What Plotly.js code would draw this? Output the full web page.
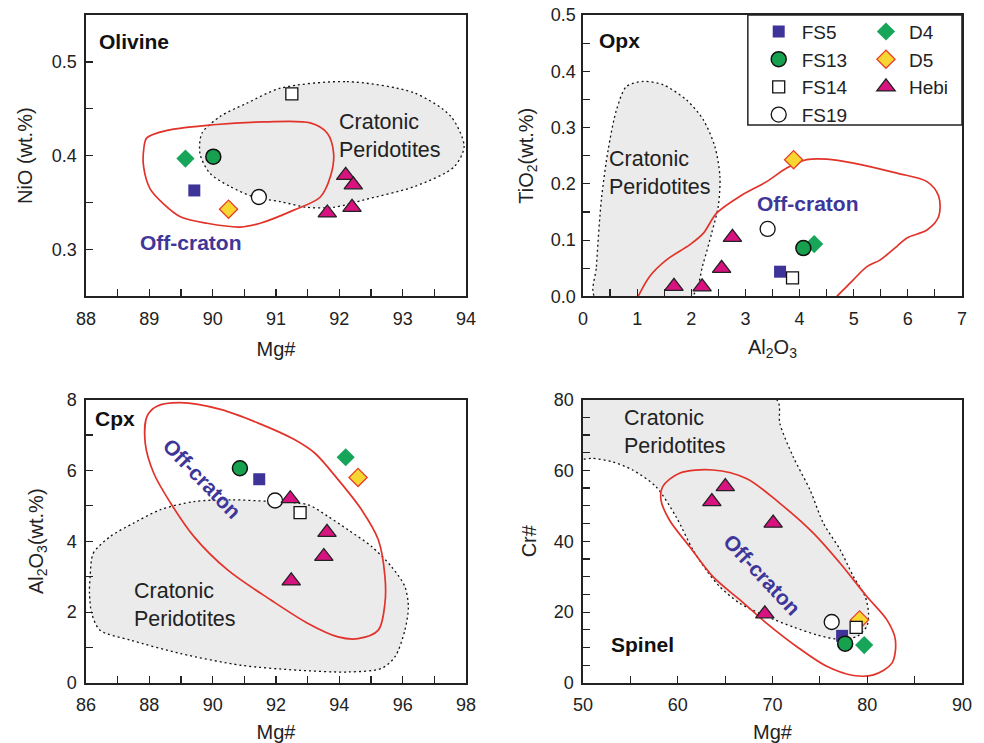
<!DOCTYPE html>
<html>
<head>
<meta charset="utf-8">
<script src="https://cdn.plot.ly/plotly-3.0.1.min.js"></script>
<style>html,body{margin:0;padding:0;background:#fff;}#chart{width:984px;height:743px;}</style>
</head>
<body>
<div id="chart"></div>
<script>
// ---------------- DATA ----------------
// sample order for the "single" samples: FS5, FS13, FS14, FS19, D4, D5
const sampleNames = ['FS5', 'FS13', 'FS14', 'FS19', 'D4', 'D5'];

// Olivine: Mg# vs NiO (wt.%)
const olivineSampleMg  = [89.71, 90.01, 91.25, 90.73, 89.57, 90.25];
const olivineSampleNiO = [0.363, 0.399, 0.466, 0.356, 0.397, 0.343];
const olivineHebiMg  = [92.10, 92.22, 91.81, 92.20];
const olivineHebiNiO = [0.379, 0.369, 0.339, 0.345];
const olivineCratonMg  = [91.07, 92.12, 93.18, 93.76, 93.97, 93.81, 93.18, 92.39, 91.91, 91.49, 91.07, 90.65, 90.28, 89.96, 89.80, 89.83, 90.12, 90.54, 91.07];
const olivineCratonNiO = [0.472, 0.479, 0.467, 0.442, 0.410, 0.388, 0.367, 0.353, 0.345, 0.345, 0.351, 0.356, 0.367, 0.381, 0.402, 0.424, 0.442, 0.456, 0.472];
const olivineOffMg  = [88.96, 89.28, 90.01, 90.81, 91.54, 91.81, 91.91, 91.86, 91.70, 91.28, 90.75, 90.44, 89.91, 89.49, 89.22, 89.01, 88.91, 88.91, 88.96];
const olivineOffNiO = [0.419, 0.427, 0.433, 0.436, 0.435, 0.424, 0.402, 0.378, 0.356, 0.342, 0.328, 0.324, 0.328, 0.335, 0.349, 0.365, 0.388, 0.406, 0.419];

// Opx: Al2O3 vs TiO2 (wt.%)
const opxSampleAl = [3.64, 4.07, 3.87, 3.41, 4.27, 3.89];
const opxSampleTi = [0.044, 0.086, 0.033, 0.120, 0.093, 0.243];
const opxHebiAl = [2.76, 2.56, 1.68, 2.20];
const opxHebiTi = [0.105, 0.050, 0.018, 0.017];
const opxCratonAl = [0.216, 0.247, 0.339, 0.463, 0.617, 0.802, 1.110, 1.481, 1.912, 2.221, 2.437, 2.529, 2.498, 2.375, 2.221, 2.005, 0.216];
const opxCratonTi = [0.000, 0.053, 0.172, 0.260, 0.331, 0.373, 0.382, 0.376, 0.349, 0.314, 0.266, 0.213, 0.160, 0.112, 0.059, 0.000, 0.000];
const opxOffAl = [1.018, 1.234, 1.542, 1.974, 2.221, 2.468, 2.899, 3.393, 3.763, 4.133, 4.503, 4.997, 5.799, 6.354, 6.570, 6.570, 6.354, 5.984, 5.799, 5.490, 5.244, 4.997, 4.812, 4.688];
const opxOffTi = [0.000, 0.036, 0.065, 0.092, 0.112, 0.148, 0.178, 0.204, 0.228, 0.243, 0.244, 0.237, 0.219, 0.204, 0.178, 0.142, 0.118, 0.104, 0.089, 0.065, 0.053, 0.030, 0.012, 0.000];

// Cpx: Mg# vs Al2O3 (wt.%)
const cpxSampleMg = [91.47, 90.86, 92.76, 91.97, 94.20, 94.59];
const cpxSampleAl = [5.75, 6.06, 4.81, 5.15, 6.37, 5.80];
const cpxHebiMg = [92.45, 93.61, 93.51, 92.48];
const cpxHebiAl = [5.20, 4.25, 3.57, 2.88];
const cpxCratonMg = [86.13, 86.23, 86.76, 87.50, 88.35, 89.41, 90.57, 91.84, 93.01, 93.64, 94.28, 95.02, 95.65, 96.07, 96.18, 96.07, 95.76, 95.33, 94.28, 92.69, 90.89, 88.98, 87.40, 86.44, 86.18, 86.11, 86.13];
const cpxCratonAl = [3.00, 3.66, 4.13, 4.51, 4.89, 5.12, 5.17, 5.12, 5.03, 4.70, 4.32, 3.85, 3.28, 2.72, 2.15, 1.49, 0.74, 0.41, 0.31, 0.36, 0.50, 0.83, 1.21, 1.49, 1.96, 2.53, 3.00];
const cpxOffMg = [88.24, 88.98, 90.25, 91.42, 92.58, 93.22, 93.96, 94.70, 95.23, 95.44, 95.44, 95.23, 94.59, 93.96, 93.01, 91.84, 90.47, 89.41, 88.67, 88.14, 87.87, 87.93, 88.24];
const cpxOffAl = [7.81, 7.91, 7.72, 7.34, 6.87, 6.49, 5.74, 4.89, 4.04, 3.00, 2.25, 1.49, 1.25, 1.30, 1.68, 2.34, 3.19, 4.13, 5.08, 5.92, 6.77, 7.53, 7.81];

// Spinel: Mg# vs Cr#
const spSampleMg = [77.35, 77.67, 78.83, 76.25, 79.68, 79.19];
const spSampleCr = [13.3, 11.1, 15.7, 17.2, 10.7, 17.8];
const spHebiMg = [65.02, 63.60, 70.07, 69.19];
const spHebiCr = [55.4, 51.2, 45.1, 19.5];
const spCratonMg = [70.42, 70.78, 72.19, 73.96, 75.37, 77.14, 78.55, 79.79, 80.14, 79.96, 78.90, 76.78, 74.66, 72.19, 69.36, 66.54, 64.42, 63.00, 61.59, 59.82, 57.70, 55.23, 53.11, 50.99, 50.00, 50.00, 70.42];
const spCratonCr = [80.0, 73.2, 63.8, 54.5, 45.1, 37.6, 30.0, 24.4, 19.7, 16.0, 13.1, 12.4, 13.6, 15.8, 18.8, 22.5, 27.2, 31.9, 37.6, 46.9, 55.4, 60.1, 62.4, 63.4, 63.4, 80.0, 80.0];
const spOffMg = [58.41, 60.18, 63.71, 67.24, 70.78, 74.31, 77.14, 79.96, 82.08, 82.97, 82.61, 80.67, 78.55, 75.72, 72.54, 69.36, 66.54, 63.71, 61.24, 59.12, 58.23, 58.41];
const spOffCr = [55.4, 59.2, 60.1, 57.7, 50.7, 42.3, 33.8, 24.4, 17.8, 12.2, 5.6, 2.3, 2.1, 4.7, 10.3, 16.9, 23.5, 30.0, 38.5, 46.0, 51.6, 55.4];

// ---------------- STYLES ----------------
const FONT = 'Liberation Sans, Arial, Helvetica, sans-serif';
const INK = '#222';
const OFF_COLOR = '#3f3699';
const sampleStyle = {
  FS5:  {symbol: 'square', size: 12, color: '#3e3398', line: {color: '#3e3398', width: 0}},
  FS13: {symbol: 'circle', size: 15, color: '#17a04e', line: {color: '#111', width: 1.5}},
  FS14: {symbol: 'square', size: 12, color: '#ffffff', line: {color: '#111', width: 1.3}},
  FS19: {symbol: 'circle', size: 15, color: '#ffffff', line: {color: '#111', width: 1.3}},
  D4:   {symbol: 'diamond', size: 14, color: '#17a55a', line: {color: '#17a55a', width: 0}},
  D5:   {symbol: 'diamond', size: 14, color: '#f7d631', line: {color: '#e8402a', width: 1.3}},
  Hebi: {symbol: 'triangle-up', size: 16, color: '#d8127e', line: {color: '#222', width: 1.3}}
};
const legendOf = {FS5: 'legend', FS13: 'legend', FS14: 'legend', FS19: 'legend', D4: 'legend2', D5: 'legend2', Hebi: 'legend2'};
const drawOrder = ['D4', 'D5', 'FS5', 'FS13', 'FS14', 'FS19'];

const panels = [
  {xa: 'x',  ya: 'y',  sx: olivineSampleMg, sy: olivineSampleNiO, hx: olivineHebiMg, hy: olivineHebiNiO,
   cx: olivineCratonMg, cy: olivineCratonNiO, ox: olivineOffMg, oy: olivineOffNiO, legend: false},
  {xa: 'x2', ya: 'y2', sx: opxSampleAl, sy: opxSampleTi, hx: opxHebiAl, hy: opxHebiTi,
   cx: opxCratonAl, cy: opxCratonTi, ox: opxOffAl, oy: opxOffTi, legend: true},
  {xa: 'x3', ya: 'y3', sx: cpxSampleMg, sy: cpxSampleAl, hx: cpxHebiMg, hy: cpxHebiAl,
   cx: cpxCratonMg, cy: cpxCratonAl, ox: cpxOffMg, oy: cpxOffAl, legend: false},
  {xa: 'x4', ya: 'y4', sx: spSampleMg, sy: spSampleCr, hx: spHebiMg, hy: spHebiCr,
   cx: spCratonMg, cy: spCratonCr, ox: spOffMg, oy: spOffCr, legend: false}
];

const traces = [];
panels.forEach(p => {
  traces.push({type: 'scatter', mode: 'lines', x: p.cx, y: p.cy, xaxis: p.xa, yaxis: p.ya,
    fill: 'toself', fillcolor: '#ebebeb', line: {color: '#111', width: 1.3, dash: '2px,3px', shape: 'spline', smoothing: 0.8},
    showlegend: false, hoverinfo: 'skip'});
  traces.push({type: 'scatter', mode: 'lines', x: p.ox, y: p.oy, xaxis: p.xa, yaxis: p.ya,
    line: {color: '#e2332b', width: 1.7, shape: 'spline', smoothing: 0.9},
    showlegend: false, hoverinfo: 'skip', cliponaxis: true});
  drawOrder.forEach(name => {
    const i = sampleNames.indexOf(name);
    traces.push({type: 'scatter', mode: 'markers', name: name, x: [p.sx[i]], y: [p.sy[i]],
      xaxis: p.xa, yaxis: p.ya, marker: sampleStyle[name], showlegend: p.legend, legend: legendOf[name], cliponaxis: false});
  });
  traces.push({type: 'scatter', mode: 'markers', name: 'Hebi', x: p.hx, y: p.hy,
    xaxis: p.xa, yaxis: p.ya, marker: sampleStyle.Hebi, showlegend: p.legend, legend: 'legend2', cliponaxis: false});
});

function axis(domain, range, dtick, minor, anchor, extra) {
  return Object.assign({
    domain: domain, range: range, dtick: dtick, tick0: 0, anchor: anchor,
    ticks: 'inside', ticklen: 7, tickwidth: 1.2, tickcolor: INK,
    minor: {dtick: minor, ticks: 'inside', ticklen: 7, tickwidth: 1.2, tickcolor: INK, showgrid: false},
    showline: true, mirror: true, linecolor: INK, linewidth: 1.6,
    showgrid: false, zeroline: false, fixedrange: true,
    tickfont: {family: FONT, size: 18, color: INK}
  }, extra || {});
}
const titleFont = {family: FONT, size: 20, color: INK};
const colL = [0.0874, 0.4736];
const colR = [0.5925, 0.9776];
const rowT = [0.6010, 0.9798];
const rowB = [0.0808, 0.4623];

const layout = {
  width: 984, height: 743,
  margin: {l: 0, r: 0, t: 0, b: 0},
  paper_bgcolor: '#fff', plot_bgcolor: '#fff',
  font: {family: FONT, color: INK},
  showlegend: true,
  xaxis:  axis(colL, [88, 94], 1, 0.5, 'y',  {title: {text: 'Mg#', font: titleFont, standoff: 14}, ticklabelstandoff: 5}),
  yaxis:  axis(rowT, [0.25, 0.55], 0.1, 0.05, 'x', {tickformat: '.1f', title: {text: 'NiO (wt.%)', font: titleFont, standoff: 14}, ticklabelstandoff: 4}),
  xaxis2: axis(colR, [0, 7], 1, 0.5, 'y2', {title: {text: 'Al<sub>2</sub>O<sub>3</sub>', font: titleFont, standoff: 12}, ticklabelstandoff: 5}),
  yaxis2: axis(rowT, [0, 0.5], 0.1, 0.05, 'x2', {tickformat: '.1f', title: {text: 'TiO<sub>2</sub>(wt.%)', font: titleFont, standoff: 12}, ticklabelstandoff: 2}),
  xaxis3: axis(colL, [86, 98], 2, 1, 'y3', {title: {text: 'Mg#', font: titleFont, standoff: 14}, ticklabelstandoff: 5}),
  yaxis3: axis(rowB, [0, 8], 2, 1, 'x3', {title: {text: 'Al<sub>2</sub>O<sub>3</sub>(wt.%)', font: titleFont, standoff: 18}, ticklabelstandoff: 4}),
  xaxis4: axis(colR, [50, 90], 10, 5, 'y4', {title: {text: 'Mg#', font: titleFont, standoff: 14}, ticklabelstandoff: 5}),
  yaxis4: axis(rowB, [0, 80], 20, 5, 'x4', {title: {text: 'Cr#', font: titleFont, standoff: 12}, ticklabelstandoff: 4}),
  legend: {x: 0.768, xanchor: 'left', y: 0.983, yanchor: 'top', bgcolor: 'rgba(0,0,0,0)', borderwidth: 0, itemwidth: 36,
           font: {family: FONT, size: 19, color: INK}, traceorder: 'normal', tracegroupgap: 0},
  legend2: {x: 0.877, xanchor: 'left', y: 0.983, yanchor: 'top', bgcolor: 'rgba(0,0,0,0)', borderwidth: 0, itemwidth: 36,
           font: {family: FONT, size: 19, color: INK}, traceorder: 'normal', tracegroupgap: 0},
  shapes: [
    {type: 'rect', xref: 'paper', yref: 'paper', x0: 0.760, x1: 0.9776, y0: 0.8318, y1: 0.9798,
     line: {color: INK, width: 1.5}, fillcolor: 'rgba(0,0,0,0)', layer: 'above'}
  ],
  annotations: []
};

function label(xref, yref, x, y, text, opts) {
  layout.annotations.push(Object.assign({xref: xref, yref: yref, x: x, y: y, text: text, showarrow: false,
    xanchor: 'left', yanchor: 'middle', align: 'left', font: {family: FONT, size: 22, color: INK}}, opts || {}));
}
const boldFont = {family: FONT, size: 21, color: '#111', weight: 'bold'};
const offFont = {family: FONT, size: 21, color: OFF_COLOR, weight: 'bold'};
const cratFont = {family: FONT, size: 21.5, color: INK};
// Olivine
label('x', 'y', 88.17, 0.522, '<b>Olivine</b>', {font: boldFont});
label('x', 'y', 91.97, 0.421, 'Cratonic<br>Peridotites', {font: cratFont});
label('x', 'y', 88.82, 0.307, '<b>Off-craton</b>', {font: offFont});
// Opx
label('x2', 'y2', 0.26, 0.455, '<b>Opx</b>', {font: boldFont});
label('x2', 'y2', 0.44, 0.219, 'Cratonic<br>Peridotites', {font: cratFont});
label('x2', 'y2', 3.18, 0.166, '<b>Off-craton</b>', {font: offFont});
// Cpx
label('x3', 'y3', 86.22, 7.46, '<b>Cpx</b>', {font: boldFont});
label('x3', 'y3', 87.45, 2.20, 'Cratonic<br>Peridotites', {font: cratFont});
label('x3', 'y3', 89.66, 5.76, '<b>Off-craton</b>', {font: offFont, xanchor: 'center', textangle: 46});
// Spinel
label('x4', 'y4', 54.13, 70.9, 'Cratonic<br>Peridotites', {font: cratFont});
label('x4', 'y4', 52.75, 10.8, '<b>Spinel</b>', {font: boldFont});
label('x4', 'y4', 68.86, 30.5, '<b>Off-craton</b>', {font: offFont, xanchor: 'center', textangle: 47});

Plotly.newPlot('chart', traces, layout, {staticPlot: true, displayModeBar: false});
</script>
</body>
</html>
